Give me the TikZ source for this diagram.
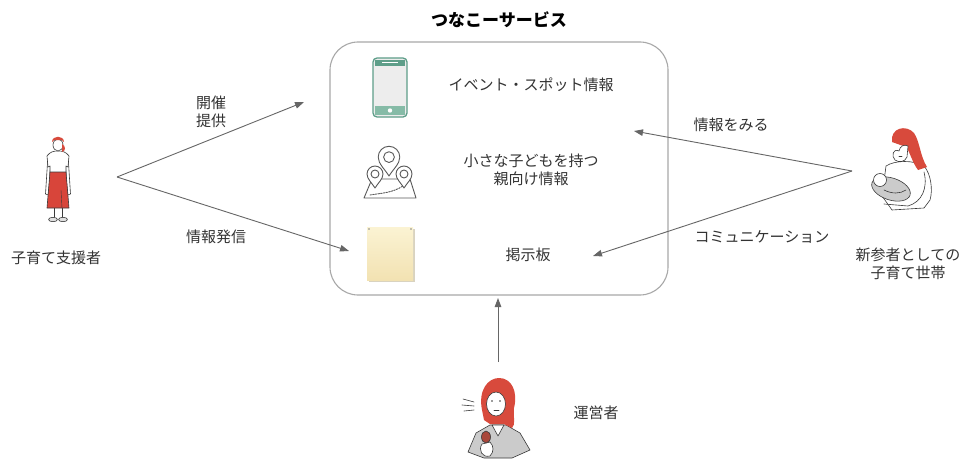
\documentclass[tikz,border=0pt]{standalone}
\usepackage{fontspec}
\setmainfont{Noto Sans CJK JP}
\usetikzlibrary{arrows.meta}

\definecolor{ink}{HTML}{3A3A3A}
\definecolor{txt}{HTML}{333333}
\definecolor{flowgray}{HTML}{666666}
\definecolor{frame}{HTML}{A8A8A8}
\definecolor{phoneteal}{HTML}{5E9E89}
\definecolor{phonelight}{HTML}{86BBA7}
\definecolor{screen}{HTML}{EDEDED}
\definecolor{noteA}{HTML}{FBF3D3}
\definecolor{noteB}{HTML}{F2E2B2}
\definecolor{noteshade}{HTML}{D9D3C0}
\definecolor{hair}{HTML}{D84A3C}
\definecolor{skirt}{HTML}{D8453A}
\definecolor{cloth}{HTML}{CBCBCB}
\definecolor{mic}{HTML}{A9473B}

\tikzset{
  lbl/.style={text=txt, font=\fontsize{15}{18}\selectfont, align=center, inner sep=0pt},
  flow/.style={draw=flowgray, line width=0.9pt, -{Triangle[length=9pt,width=6.5pt]}},
  outline/.style={draw=ink, line width=0.6pt, line join=round, line cap=round},
  iconline/.style={draw=ink!85, line width=0.9pt, line join=round, line cap=round},
  pics/mappin/.style={code={
    \path[iconline, fill=white] (0,0) .. controls (-3,-5) and (-8,-9) .. (-8,-14)
      arc[start angle=180, end angle=0, radius=8pt]
      .. controls (8,-9) and (3,-5) .. (0,0) -- cycle;
    \draw[iconline] (0,-14) circle (4pt);
  }}
}

\begin{document}
\begin{tikzpicture}[x=1pt, y=-1pt]
\useasboundingbox[fill=white] (0,0) rectangle (968,460);

% ---- service frame and title ----
\node (svc) [draw=frame, line width=1.1pt, rounded corners=28pt,
  minimum width=338pt, minimum height=253pt, inner sep=0pt] at (499,168.5) {};
\node (title) [text=black, font=\fontsize{17}{20}\selectfont\bfseries, inner sep=0pt] at (499,20) {つなこーサービス};

% ---- smartphone icon ----
\draw[draw=phoneteal, fill=screen, line width=1.3pt, rounded corners=4pt] (373,58) rectangle (407,117);
\fill[phoneteal] (375,60) rectangle (405,65.5);
\draw[white, line width=0.6pt] (382,62.5) -- (398,62.5);
\fill[phonelight] (375,106) rectangle (405,115);
\fill[white] (390,110.5) circle (2.2pt);
\node (evtxt) [lbl] at (531,85) {イベント・スポット情報};

% ---- map icon ----
\draw[iconline] (364,198) -- (372,179) -- (410,179) -- (416,198) -- cycle;
\draw[iconline, dash pattern=on 1.5pt off 1.2pt] (370,195) .. controls (382,193) and (392,193) .. (403,186);
\pic at (375,188) {mappin};
\pic at (404,188) {mappin};
\pic[scale=1.35] at (389,176) {mappin};
\node (parenttxt) [lbl] at (531,170) {小さな子どもを持つ\\親向け情報};

% ---- sticky note ----
\fill[noteshade] (369,229) rectangle (415,282);
\shade[top color=noteA, bottom color=noteB] (367,227) rectangle (413,280);
\fill[ink!60] (369,229) circle (0.8pt) (411,229) circle (0.8pt);
\node (boardtxt) [lbl] at (528,255) {掲示板};

% ---- supporter (left) ----
\coordinate (supporter) at (58,178);
\draw[outline] (54,207) -- (54,217) (62,207) -- (62,217);
\draw[outline, fill=cloth!60] (53,219.5) ellipse [x radius=4.5pt, y radius=2.2pt];
\draw[outline, fill=cloth!60] (63,219.5) ellipse [x radius=4.5pt, y radius=2.2pt];
% arms
\draw[outline, fill=white] (48,155) -- (45.5,194) -- (48.5,195) -- (51,160);
\draw[outline, fill=white] (68,155) -- (70.5,194) -- (67.5,195) -- (65,160);
% shirt
\draw[outline, fill=white] (47,156) .. controls (50,152) and (53,151) .. (58,151)
  .. controls (63,151) and (66,152) .. (69,156) -- (68,167) -- (66,166) -- (66,174) -- (50,174) -- (50,166) -- (48,167) -- cycle;
% skirt
\draw[outline, fill=skirt] (50,172) -- (66,172) -- (69,208) -- (47,208) -- cycle;
\draw[ink, line width=0.4pt] (61,190) -- (62,208);
% head and hair
\draw[outline, fill=white] (58,145) ellipse [x radius=5pt, y radius=6pt];
\fill[hair] (52,142) .. controls (52,135) and (64,135) .. (64,142) -- (62,140) -- (54,140) -- cycle;
\fill[hair] (62,144) .. controls (66,146) and (66,151) .. (62,152) -- cycle;
\node (suplbl) [lbl] at (56,258) {子育て支援者};

% ---- new family (right) ----
\coordinate (family) at (900,172);
% body
\draw[outline, fill=white] (886,166) .. controls (895,160) and (914,160) .. (924,166)
  .. controls (931,174) and (933,190) .. (930,200) -- (924,208) -- (892,210) -- (882,196) -- cycle;
% hair falling over the back
\fill[hair] (892,142) .. controls (890,128) and (906,124) .. (914,133)
  .. controls (920,142) and (920,156) .. (927,167) -- (918,170) .. controls (912,162) and (910,152) .. (906,147) -- cycle;
% face, turned down towards the baby
\draw[outline, fill=white] (899,151) .. controls (893,148) and (891,156) .. (895,160)
  .. controls (899,163) and (905,162) .. (907,157) -- (908,146) .. controls (904,144) and (900,146) .. (899,151) -- cycle;
\draw[outline] (899,156) -- (902,156);
% baby in blanket
\draw[outline, fill=cloth, rotate around={-18:(891,189)}] (891,189) ellipse [x radius=20pt, y radius=11pt];
\draw[outline, fill=white] (880,180) circle (6.5pt);
\draw[outline] (884,190) .. controls (892,194) and (900,194) .. (906,190);
% holding arm
\draw[outline] (924,172) .. controls (928,188) and (922,202) .. (908,206) -- (884,204);
\node (famlbl) [lbl] at (908,264) {新参者としての\\子育て世帯};

% ---- operator (bottom) ----
\coordinate (operator) at (498,412);
% jacket
\draw[outline, fill=cloth] (468,452) -- (476,433) -- (490,425) -- (506,425) -- (520,433) -- (530,450) -- (512,458) -- (484,458) -- cycle;
\draw[outline, fill=white] (492,425) -- (498,436) -- (504,425) -- cycle;
% hair
\fill[hair] (482,410) .. controls (478,390) and (488,378) .. (499,378)
  .. controls (512,378) and (518,392) .. (514,408) .. controls (513,418) and (516,424) .. (512,428) -- (504,424) -- (490,424) -- (484,420) -- cycle;
% face
\draw[outline, fill=white] (496,404) ellipse [x radius=9.5pt, y radius=12pt];
\fill[ink] (492,401) circle (0.9pt) (500,401) circle (0.9pt);
\draw[outline] (494,410) -- (499,410);
% speech lines
\draw[outline] (463,399) -- (474,402) (462,405) -- (474,406) (464,411) -- (474,410);
% microphone and hand
\draw[outline, fill=white] (482,444) .. controls (478,450) and (482,458) .. (490,456) .. controls (494,452) and (494,446) .. (490,442) -- cycle;
\draw[outline, fill=mic] (486,437) ellipse [x radius=4.5pt, y radius=6pt];
\node (oplbl) [lbl] at (596,413) {運営者};

% ---- connectors ----
\coordinate (lhub) at (117,177);
\coordinate (lendA) at (304,102);
\coordinate (lendB) at (349,251);
\coordinate (rhub) at (852,171);
\coordinate (rendA) at (634,131);
\coordinate (rendB) at (593,256);
\coordinate (opstart) at (498,362);
\coordinate (opend) at (498,298);

\draw[flow] (lhub) -- (lendA);
\draw[flow] (lhub) -- (lendB);
\draw[flow] (rhub) -- (rendA);
\draw[flow] (rhub) -- (rendB);
\draw[flow] (opstart) -- (opend);

\node (holdlbl) [lbl] at (211,112) {開催\\提供};
\node (postlbl) [lbl] at (216,237) {情報発信};
\node (viewlbl) [lbl] at (731,125) {情報をみる};
\node (commlbl) [lbl] at (762,237) {コミュニケーション};
\end{tikzpicture}
\end{document}
